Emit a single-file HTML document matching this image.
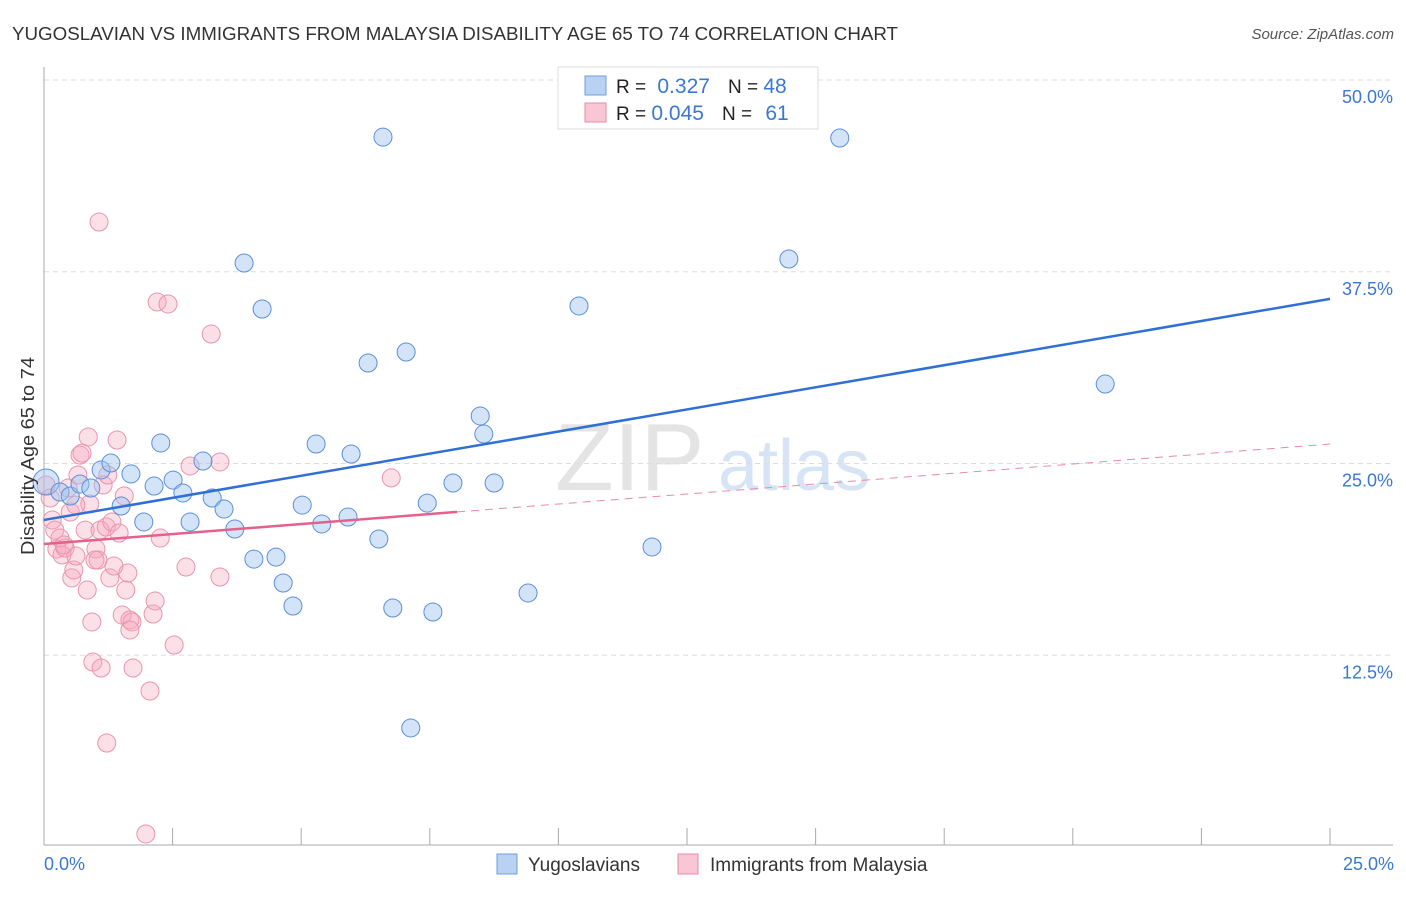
<!DOCTYPE html>
<html><head><meta charset="utf-8"><style>
body{margin:0;background:#fff;font-family:"Liberation Sans",sans-serif;}
svg text{font-family:"Liberation Sans",sans-serif;}
</style></head><body>
<svg width="1406" height="892" xmlns="http://www.w3.org/2000/svg">
<text x="12" y="40" font-size="18" fill="#333" textLength="886" lengthAdjust="spacingAndGlyphs">YUGOSLAVIAN VS IMMIGRANTS FROM MALAYSIA DISABILITY AGE 65 TO 74 CORRELATION CHART</text>
<text x="1394" y="39" font-size="15" fill="#555" text-anchor="end" font-style="italic">Source: ZipAtlas.com</text>
<text x="555" y="490" font-size="96" fill="#e4e4e4" font-family="Liberation Serif">ZIP</text>
<text x="718" y="490" font-size="72" fill="#d6e4f5">atlas</text>
<g id="grid"></g>
<g id="axes"></g>
<g id="pts"></g>
<g id="lines"></g>
<text transform="translate(34,456) rotate(-90)" font-size="18" fill="#333" text-anchor="middle" textLength="198" lengthAdjust="spacingAndGlyphs">Disability Age 65 to 74</text>
<text x="44" y="870" font-size="18" fill="#3a78d4">0.0%</text>
<text x="1394" y="870" font-size="18" fill="#3a78d4" text-anchor="end">25.0%</text>
<g>
<rect x="558" y="67" width="260" height="62" fill="#fff" stroke="#ddd"/>
<rect x="585" y="76" width="21" height="19" fill="#b9d1f3" stroke="#6f9de0"/>
<rect x="585" y="103" width="21" height="19" fill="#f8c6d4" stroke="#e88aa6"/>
<text x="616" y="93" font-size="19" fill="#222">R = <tspan fill="#3a78d4" font-size="21" dx="6">0.327</tspan><tspan dx="18">N = </tspan><tspan fill="#3a78d4" font-size="21">48</tspan></text>
<text x="616" y="120" font-size="19" fill="#222">R = <tspan fill="#3a78d4" font-size="21">0.045</tspan><tspan dx="18">N = </tspan><tspan fill="#3a78d4" font-size="21" dx="8">61</tspan></text>
</g>
<g>
<rect x="497" y="854" width="20" height="20" fill="#b9d1f3" stroke="#6f9de0"/>
<text x="528" y="871" font-size="19" fill="#333">Yugoslavians</text>
<rect x="678" y="854" width="20" height="20" fill="#f8c6d4" stroke="#e88aa6"/>
<text x="710" y="871" font-size="19" fill="#333">Immigrants from Malaysia</text>
</g>
</svg>
<script>
const yTicks=[12.5,25,37.5,50];
const yTickLabels=["12.5%","25.0%","37.5%","50.0%"];
const xTicks=[0,2.5,5,7.5,10,12.5,15,17.5,20,22.5,25];
const blueX=[0.04,0.31,0.51,0.70,0.91,1.11,1.30,1.50,1.69,1.94,2.14,2.27,2.51,2.70,2.84,3.09,3.27,3.50,3.71,3.89,4.08,4.24,4.51,4.65,4.84,5.02,5.29,5.40,5.91,5.97,6.30,6.51,6.59,6.78,7.04,7.13,7.45,7.56,7.95,8.48,8.55,8.75,9.41,10.40,11.82,14.48,15.47,20.63];
const blueY=[23.79,23.14,22.88,23.66,23.40,24.58,25.03,22.23,24.32,21.19,23.53,26.34,23.92,23.08,21.19,25.16,22.75,22.03,20.73,38.07,18.77,35.07,18.90,17.21,15.71,22.29,26.27,21.06,21.51,25.62,31.55,20.08,46.28,15.58,32.27,7.76,22.42,15.32,23.73,28.10,26.92,23.73,16.56,35.27,19.56,38.33,46.22,30.18];
const pinkX=[0.04,0.12,0.16,0.21,0.25,0.31,0.35,0.41,0.47,0.51,0.54,0.58,0.62,0.66,0.70,0.74,0.80,0.84,0.86,0.89,0.93,0.95,1.01,1.05,1.09,1.11,1.15,1.21,1.22,1.28,1.32,1.36,1.42,1.46,1.52,1.56,1.59,1.63,1.67,1.71,1.73,1.98,2.06,2.12,2.16,2.20,2.26,2.41,2.53,2.76,2.84,3.25,3.42,3.42,6.75,1.07,0.99,0.39,0.62,1.24,1.67];
const pinkY=[23.60,22.75,21.32,20.66,19.43,20.14,19.04,19.49,23.40,21.84,17.54,18.06,18.97,24.25,25.55,25.68,20.66,16.75,26.73,22.36,14.67,12.06,19.43,18.71,20.66,11.67,23.60,20.86,6.78,17.54,21.19,18.32,26.53,20.47,15.12,22.88,16.75,17.86,14.80,14.67,11.67,0.85,10.17,15.19,16.04,35.53,20.14,35.40,13.17,18.25,24.84,33.44,17.60,25.10,24.06,40.74,18.71,19.69,22.29,24.25,14.15];
const blueTrend=[21.32,35.73];
const pinkTrend=[19.75,26.27];
const pinkSolidEnd=8.03;
const NS="http://www.w3.org/2000/svg";
const X0=44,X1=1330,Y0=847,Y1=80;
const sx=v=>X0+(v/25)*(X1-X0);
const sy=v=>Y0-(v/50)*(Y0-Y1);
function mk(t,a,p){const e=document.createElementNS(NS,t);for(const k in a)e.setAttribute(k,a[k]);p.appendChild(e);return e;}
const grid=document.getElementById('grid');
yTicks.forEach((t,i)=>{
 const l=mk('line',{x1:44,x2:1393,y1:sy(t),y2:sy(t),stroke:'#ddd','stroke-dasharray':'5,4'},grid);
 
 
 const tx=mk('text',{x:1393,y:sy(t)+23,'font-size':18,fill:'#3a78d4','text-anchor':'end'},grid);
 tx.textContent=yTickLabels[i];
 
 
});
const axes=document.getElementById('axes');
const ya=mk('line',{x1:44,x2:44,y1:67,y2:845,stroke:'#aaa'},axes);


const xa=mk('line',{x1:44,x2:1393,y1:845,y2:845,stroke:'#aaa'},axes);


xTicks.forEach(t=>{
 const l=mk('line',{x1:sx(t),x2:sx(t),y1:828,y2:845,stroke:'#aaa'},axes);
 
 
});
const pts=document.getElementById('pts');
pinkX.forEach((x,i)=>{
 const c=mk('circle',{cx:sx(x),cy:sy(pinkY[i]),r:9,fill:'rgba(246,166,190,0.35)',stroke:'#eb93ae','stroke-width':1},pts);
 
 
});
blueX.forEach((x,i)=>{
 const c=mk('circle',{cx:sx(x),cy:sy(blueY[i]),r:i===0?13:9,fill:'rgba(160,195,240,0.45)',stroke:'#5b8fdb','stroke-width':1},pts);
 
 
});
const lines=document.getElementById('lines');
const bl=mk('line',{x1:sx(0),y1:sy(blueTrend[0]),x2:sx(25),y2:sy(blueTrend[1]),stroke:'#2f6fd6','stroke-width':2.5},lines);


const pe=pinkTrend[0]+(pinkTrend[1]-pinkTrend[0])*pinkSolidEnd/25;
const pl=mk('line',{x1:sx(0),y1:sy(pinkTrend[0]),x2:sx(pinkSolidEnd),y2:sy(pe),stroke:'#e5608c','stroke-width':2.5},lines);


const pd=mk('line',{x1:sx(pinkSolidEnd),y1:sy(pe),x2:sx(25),y2:sy(pinkTrend[1]),stroke:'#e98aa8','stroke-width':1,'stroke-dasharray':'8,6'},lines);


</script>
</body></html>
